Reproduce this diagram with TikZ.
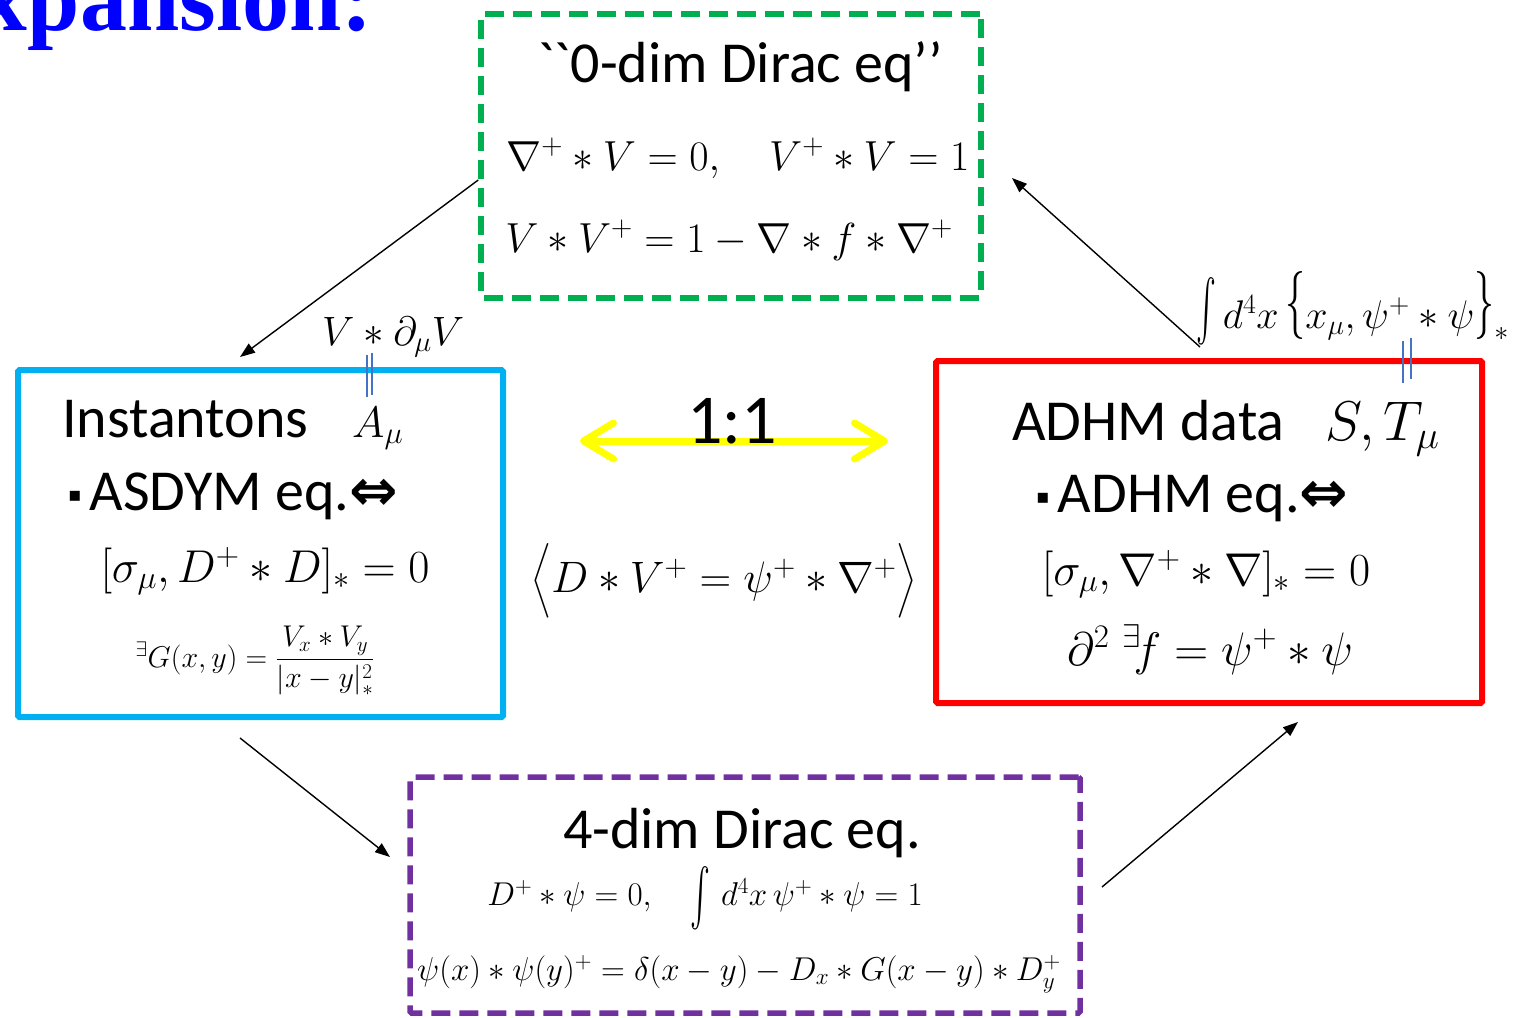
\RequirePackage{fix-cm}
\documentclass[tikz,border=0pt]{standalone}
\usepackage{fontspec}
\usepackage{amsmath}
\usepackage{exscale}
\usepackage{graphicx}
\newfontfamily\calib{Carlito}
\newfontfamily\titlefont{Liberation Serif}
\newfontfamily\dejavu{DejaVu Sans}
\usetikzlibrary{arrows.meta,calc}
\definecolor{offgreen}{RGB}{0,176,80}
\definecolor{offblue}{RGB}{0,176,240}
\definecolor{offpurple}{RGB}{112,48,160}
\definecolor{linkblue}{RGB}{68,114,196}
\definecolor{arrowyellow}{RGB}{255,255,0}
\newcommand\msz[1]{\fontsize{#1}{#1}\selectfont}
\newcommand\tallint[3]{\mathop{\raisebox{#3}{\scalebox{#1}[#2]{$\int$}}}\nolimits}
\newcommand\tallbrace[3]{\mathord{\raisebox{#2}{\scalebox{1}[#1]{$#3$}}}}
\newcommand\sqbullet{\raisebox{9pt}{\dejavu\msz{20}▪}\hspace{8pt}}
\begin{document}
\begin{tikzpicture}[x=1pt,y=-1pt,
  box/.style={draw, line width=6pt, inner sep=0pt, rounded corners=1.5pt},
  dbox/.style={box, line width=5.5pt, dash pattern=on 19pt off 9pt},
  lbl/.style={font=\calib\msz{58}, inner sep=0pt},
  eq/.style={inner sep=0pt},
  conn/.style={-{Triangle[length=15pt,width=11pt]}, line width=1.4pt},
  eqlink/.style={draw=linkblue, line width=2.8pt},
  yarrow/.style={draw=arrowyellow, line width=7pt, line cap=round,
     {Straight Barb[length=30pt,width=36pt,line cap=round,line join=round]}-{Straight Barb[length=30pt,width=36pt,line cap=round,line join=round]}}]
\useasboundingbox (0,0) rectangle (1517,1017);

% title fragment
\node[anchor=base east, font=\titlefont\bfseries\msz{94}, text=blue, inner sep=0pt] (ttl) at (373,30) {xpansion:};

% boxes
\node[dbox, draw=offgreen, minimum width=500pt, minimum height=284pt] (green) at (731,156) {};
\node[box, draw=offblue, minimum width=485pt, minimum height=347pt] (blue) at (260.5,543.5) {};
\node[box, draw=red, minimum width=546pt, minimum height=342pt] (red) at (1209,532) {};
\node[dbox, draw=offpurple, minimum width=670pt, minimum height=236pt] (purple) at (745,895) {};

% green content
\node[lbl, anchor=base] (gt) at (740,82) {``0-dim Dirac eq’’};
\node[eq, anchor=base, font=\msz{42}] (g1) at (738,170) {$\nabla^{+}*V=0,\quad V^{+}*V=1$};
\node[eq, anchor=base, font=\msz{42}] (g2) at (729,252) {$V*V^{+}=1-\nabla*f*\nabla^{+}$};

% blue content
\node[lbl, anchor=base west] (inst) at (62,437) {Instantons};
\node[eq, anchor=base west, font=\msz{44}] (amu) at (352,437) {$A_\mu$};
\node[lbl, anchor=base west] (asd) at (68,510) {\sqbullet ASDYM eq.{\dejavu\bfseries ⇔}};
\node[eq, anchor=base, font=\msz{46}] (beq) at (265,582) {$[\sigma_\mu,D^{+}*D]_*=0$};
\node[eq, anchor=base, font=\msz{30}] (gfn) at (255,667) {$^{\exists}G(x,y)=\dfrac{V_x*V_y}{|x-y|_*^2}$};

% red content
\node[lbl, anchor=base west] (adhm) at (1012,440) {ADHM data};
\node[eq, anchor=base west, font=\msz{56}] (st) at (1325,440) {$S,T_\mu$};
\node[lbl, anchor=base west] (adeq) at (1036,512) {\sqbullet ADHM eq.{\dejavu\bfseries ⇔}};
\node[eq, anchor=base, font=\msz{46}] (r1) at (1206,585) {$[\sigma_\mu,\nabla^{+}*\nabla]_*=0$};
\node[eq, anchor=base, font=\msz{47}] (r2) at (1210,665) {$\partial^2\;{}^{\exists}\!f=\psi^{+}*\psi$};

% labels above boxes
\node[eq, anchor=base west, font=\msz{41}] (vdv) at (322,345) {$V*\partial_\mu V$};
\node[eq, anchor=base west, font=\msz{40}] (intl) at (1196,328) {$\tallint{1.2}{2.45}{-8pt} d^4x\,\tallbrace{1.7}{6pt}{\{}x_\mu,\psi^{+}*\psi\tallbrace{1.7}{6pt}{\}}_*$};

% equality links
\coordinate (la1) at (367,355); \coordinate (lb1) at (367,397);
\coordinate (la2) at (372,353); \coordinate (lb2) at (372,395);
\draw[eqlink] (la1) -- (lb1);
\draw[eqlink] (la2) -- (lb2);
\coordinate (ra1) at (1403,341); \coordinate (rb1) at (1403,383);
\coordinate (ra2) at (1411,338); \coordinate (rb2) at (1411,379);
\draw[eqlink] (ra1) -- (rb1);
\draw[eqlink] (ra2) -- (rb2);

% centre
\coordinate (yl) at (580,441);
\coordinate (yr) at (888,441);
\draw[yarrow] (yl) -- (yr);
\node[font=\calib\msz{70}, anchor=base, inner sep=0pt] (one) at (732,443) {1:1};
\node[eq, anchor=base, font=\msz{44}] (ctr) at (724,592) {$\bigg\langle D*V^{+}=\psi^{+}*\nabla^{+}\bigg\rangle$};

% purple content
\node[lbl, anchor=base] (ptitle) at (742,848) {4-dim Dirac eq.};
\node[eq, anchor=base, font=\msz{33}] (p1) at (705,905) {$D^{+}*\psi=0,\quad \tallint{1.2}{2.3}{-12pt}\, d^4x\,\psi^{+}*\psi=1$};
\node[eq, anchor=base, font=\msz{33}] (p2) at (739,980) {$\psi(x)*\psi(y)^{+}=\delta(x-y)-D_x*G(x-y)*D_y^{+}$};

% connectors
\coordinate (t1) at (240,357);
\coordinate (s2) at (1200,347);
\coordinate (t2) at (1012,178);
\coordinate (s3) at (240,738);
\coordinate (t3) at (390,857);
\coordinate (s4) at (1102,887);
\coordinate (t4) at (1298,722);
\draw[conn] ($(green.west)+(0,24)$) -- (t1);
\draw[conn] (s2) -- (t2);
\draw[conn] (s3) -- (t3);
\draw[conn] (s4) -- (t4);
\end{tikzpicture}
\end{document}
